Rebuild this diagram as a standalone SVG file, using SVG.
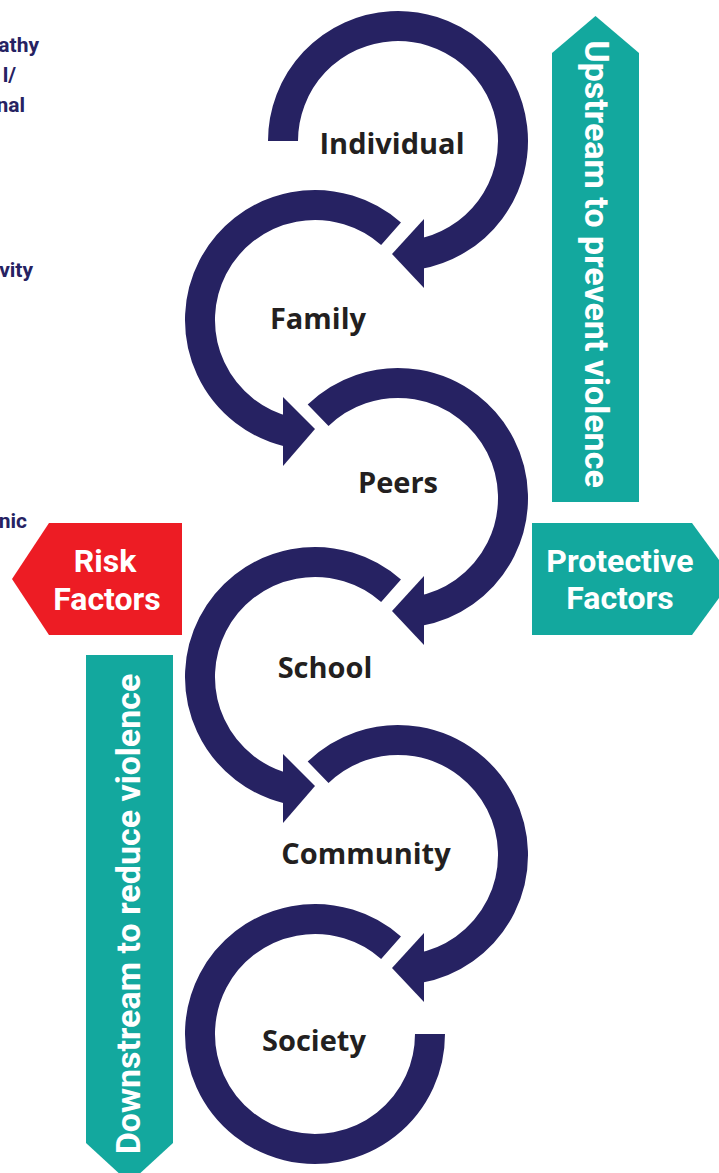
<svg xmlns="http://www.w3.org/2000/svg" width="719" height="1173" viewBox="0 0 719 1173">
<style>
.arc{fill:none;stroke:#262262;stroke-width:30;stroke-linecap:butt}
.head{fill:#262262}
.lbl{font-family:"Open Sans","Noto Sans",sans-serif;font-weight:700;font-size:29px;fill:#231f20;text-anchor:middle}
.ban{font-family:Roboto,"Liberation Sans",sans-serif;font-weight:700;fill:#ffffff;text-anchor:middle}
.side{font-family:Roboto,"Liberation Sans",sans-serif;font-weight:700;font-size:21px;fill:#262262;text-anchor:end}
.teal{fill:#13a89e}
.red{fill:#ed1c24}
</style>
<rect width="719" height="1173" fill="#ffffff"/>
<g id="side-texts">
<text class="side" x="39" y="52">athy</text>
<text class="side" x="16" y="82">l/</text>
<text class="side" x="25" y="112">nal</text>
<text class="side" x="33" y="277">vity</text>
<text class="side" x="27" y="528">nic</text>
</g>
<g id="connectors">
<path class="arc" d="M283,141 A115,115 0 1 1 417.97,254.25"/>
<polygon class="head" points="424,219 392,254 424,288"/>
<path class="arc" d="M391.05,233.74 A115,115 0 1 0 289.13,432.05"/>
<polygon class="head" points="283,397 315,429 283,466"/>
<path class="arc" d="M318.11,415.28 A115,115 0 1 1 417.97,611.25"/>
<polygon class="head" points="424,576 392,611 424,645"/>
<path class="arc" d="M391.05,590.74 A115,115 0 1 0 289.13,789.05"/>
<polygon class="head" points="283,754 315,786 283,823"/>
<path class="arc" d="M318.11,772.28 A115,115 0 1 1 417.97,968.25"/>
<polygon class="head" points="424,933 392,968 424,1002"/>
<path class="arc" d="M391.05,947.74 A115,115 0 1 0 430,1034"/>
</g>
<g id="node-individual"><text class="lbl" x="392" y="154">Individual</text></g>
<g id="node-family"><text class="lbl" x="318" y="329">Family</text></g>
<g id="node-peers"><text class="lbl" x="398" y="493">Peers</text></g>
<g id="node-school"><text class="lbl" x="325" y="678">School</text></g>
<g id="node-community"><text class="lbl" x="366" y="864">Community</text></g>
<g id="node-society"><text class="lbl" x="314" y="1051">Society</text></g>
<g id="upstream">
<polygon class="teal" points="552,53 595.5,16 639,53 639,502 552,502"/>
<text class="ban" font-size="34" transform="translate(585,264) rotate(90)">Upstream to prevent violence</text>
</g>
<g id="protective">
<polygon class="teal" points="532,523 692,523 733,579 692,635 532,635"/>
<text class="ban" font-size="32" x="620" y="572">Protective</text>
<text class="ban" font-size="32" x="620" y="609">Factors</text>
</g>
<g id="risk">
<polygon class="red" points="182,523 49,523 12,579 49,635 182,635"/>
<text class="ban" font-size="32" x="105" y="572">Risk</text>
<text class="ban" font-size="32" x="107" y="610">Factors</text>
</g>
<g id="downstream">
<polygon class="teal" points="86,655 173,655 173,1143 129.5,1183 86,1143"/>
<text class="ban" font-size="34" transform="translate(140,914) rotate(-90)">Downstream to reduce violence</text>
</g>
</svg>
